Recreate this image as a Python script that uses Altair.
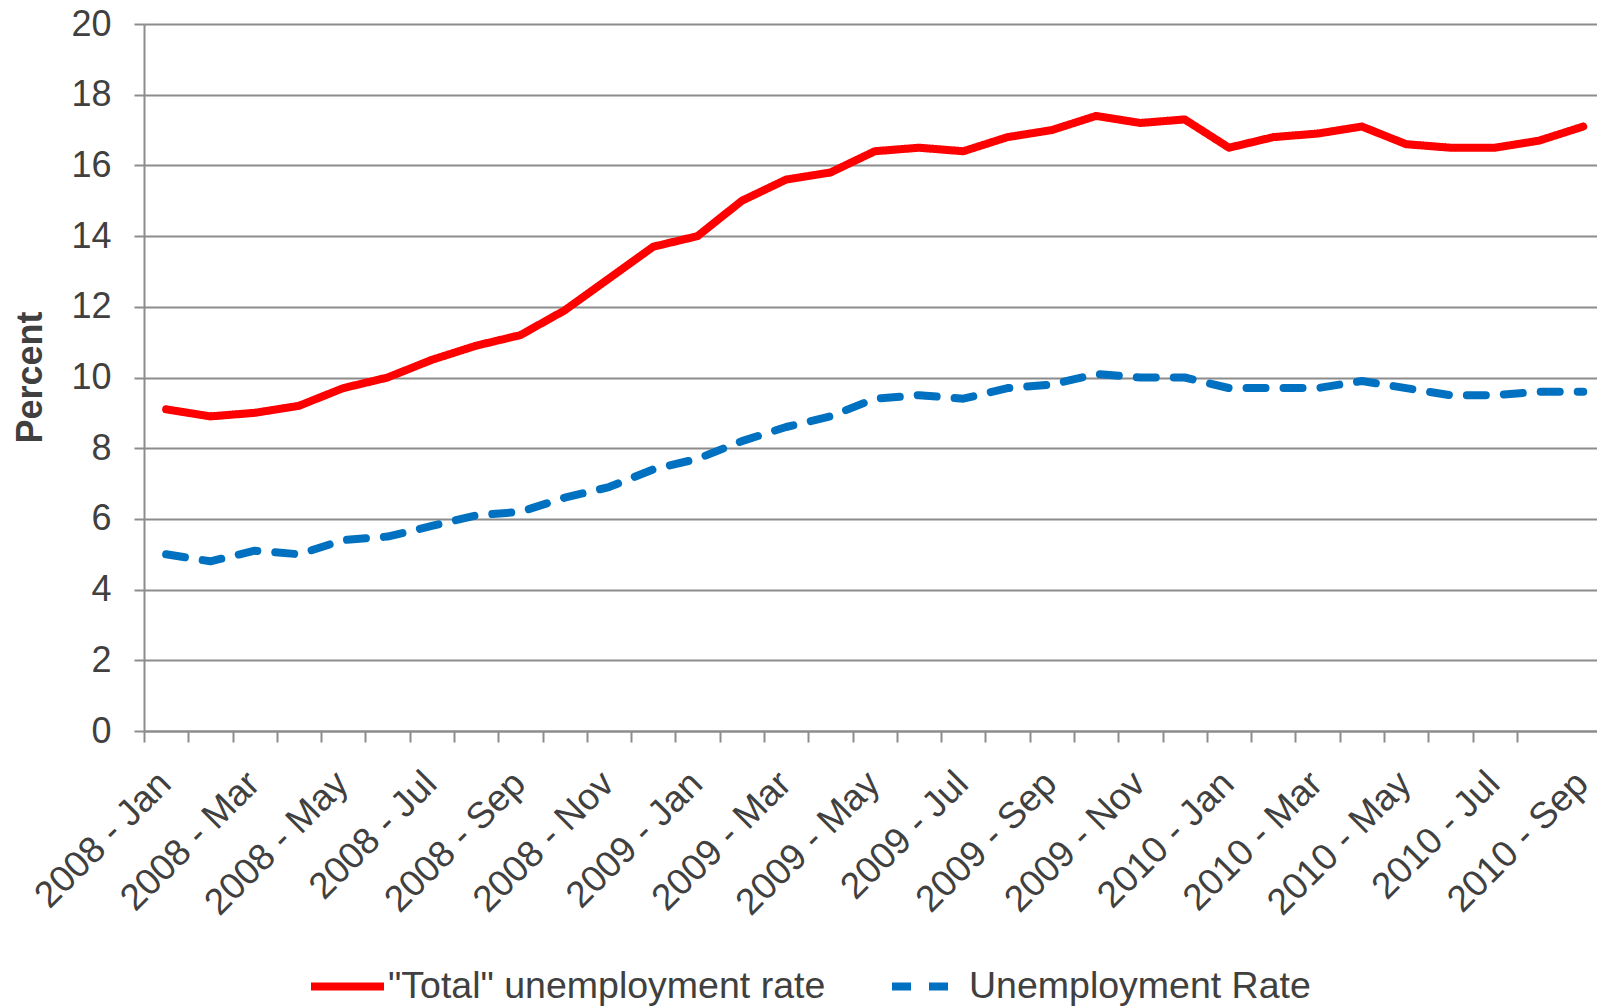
import json
import altair as alt
import pandas as pd

months = ["2008 - Jan", "2008 - Feb", "2008 - Mar", "2008 - Apr", "2008 - May", "2008 - Jun",
          "2008 - Jul", "2008 - Aug", "2008 - Sep", "2008 - Oct", "2008 - Nov", "2008 - Dec",
          "2009 - Jan", "2009 - Feb", "2009 - Mar", "2009 - Apr", "2009 - May", "2009 - Jun",
          "2009 - Jul", "2009 - Aug", "2009 - Sep", "2009 - Oct", "2009 - Nov", "2009 - Dec",
          "2010 - Jan", "2010 - Feb", "2010 - Mar", "2010 - Apr", "2010 - May", "2010 - Jun",
          "2010 - Jul", "2010 - Aug", "2010 - Sep"]

total_rate = [9.1, 8.9, 9.0, 9.2, 9.7, 10.0, 10.5, 10.9, 11.2, 11.9, 12.8, 13.7,
              14.0, 15.0, 15.6, 15.8, 16.4, 16.5, 16.4, 16.8, 17.0, 17.4, 17.2, 17.3,
              16.5, 16.8, 16.9, 17.1, 16.6, 16.5, 16.5, 16.7, 17.1]

unemp_rate = [5.0, 4.8, 5.1, 5.0, 5.4, 5.5, 5.8, 6.1, 6.2, 6.6, 6.9, 7.4,
              7.7, 8.2, 8.6, 8.9, 9.4, 9.5, 9.4, 9.7, 9.8, 10.1, 10.0, 10.0,
              9.7, 9.7, 9.7, 9.9, 9.7, 9.5, 9.5, 9.6, 9.6]

series_names = ['"Total" unemployment rate', "Unemployment Rate"]
series_colors = ["#FF0000", "#0070C0"]

rows = []
for i, m in enumerate(months):
    rows.append({"i": i, "month": m, "series": series_names[0], "value": total_rate[i]})
    rows.append({"i": i, "month": m, "series": series_names[1], "value": unemp_rate[i]})
df = pd.DataFrame(rows)

FONT = "Liberation Sans"
TXT = "#404040"
GRID = "#8c8c8c"

n = len(months)
tick_vals = [k - 0.5 for k in range(n - 1)] + [k for k in range(0, n, 2)]
label_expr = "datum.value % 1 === 0 ? " + json.dumps(months) + "[datum.value] : ''"

x_axis = alt.Axis(
    values=tick_vals,
    labelExpr=label_expr,
    grid=False,
    domainColor=GRID,
    domainWidth=2,
    tickColor=GRID,
    tickWidth=2,
    tickSize=11,
    tickOpacity={"condition": {"test": "datum.value % 1 === 0", "value": 0}, "value": 1},
    labelAngle=-45,
    labelAlign="right",
    labelBaseline="top",
    labelFont=FONT,
    labelFontSize=37,
    labelColor=TXT,
    labelPadding=23,
    labelOffset=-14,
    labelOverlap=False,
    labelFlush=False,
    labelBound=False,
    labelLimit=0,
    title=None,
)

y_axis = alt.Axis(
    values=list(range(0, 21, 2)),
    grid=True,
    gridColor=GRID,
    gridWidth=2,
    domainColor=GRID,
    domainWidth=2,
    tickColor=GRID,
    tickWidth=2,
    tickSize=10,
    labelFont=FONT,
    labelFontSize=36,
    labelColor=TXT,
    labelPadding=23,
    title="Percent",
    titleFont=FONT,
    titleFontSize=36,
    titleFontWeight="bold",
    titleColor=TXT,
    titleAngle=-90,
    titleAlign="center",
    titleBaseline="middle",
    titleX=-114,
    titleY=353,
)

chart = alt.Chart(df).mark_line(strokeWidth=8, strokeCap="round", strokeJoin="round").encode(
    x=alt.X("i:Q", scale=alt.Scale(domain=[-0.5, 32.31], nice=False, zero=False), axis=x_axis),
    y=alt.Y("value:Q", scale=alt.Scale(domain=[0, 20], nice=False), axis=y_axis),
    color=alt.Color("series:N", scale=alt.Scale(domain=series_names, range=series_colors),
                    legend=alt.Legend(
                        orient="none", legendX=163, legendY=922, direction="horizontal",
                        columns=2, title=None, symbolType="stroke", symbolSize=5329,
                        symbolStrokeWidth=8, labelFont=FONT, labelFontSize=37.5,
                        labelColor=TXT, labelOffset=0, columnPadding=50, padding=0,
                        labelLimit=0)),
    strokeDash=alt.StrokeDash("series:N", scale=alt.Scale(domain=series_names, range=[[1, 0], [19, 18]]),
                              legend=None),
    detail="series:N",
).properties(
    width=1453,
    height=707,
    autosize=alt.AutoSizeParams(type="none"),
    padding={"left": 144, "top": 24, "right": 0, "bottom": 276},
).configure_view(stroke=None).configure(background="white")

chart.save("out.html", embed_options={"renderer": "svg", "actions": False})
